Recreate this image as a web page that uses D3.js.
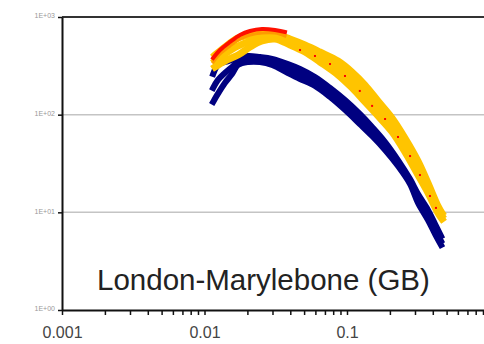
<!DOCTYPE html>
<html><head><meta charset="utf-8">
<script src="https://cdn.jsdelivr.net/npm/d3@7"></script>
<style>html,body{margin:0;padding:0;background:#fff;}svg{display:block;}</style>
</head><body>
<svg id="c" width="484" height="344"></svg>
<script>
// ---- data ----
const xTicksMajor = [0.001, 0.01, 0.1];
const yTickValues = [1, 10, 100, 1000];
const yTickLabels = ["1E+00", "1E+01", "1E+02", "1E+03"];
const title = "London-Marylebone (GB)";

const blueX = [0.0115, 0.0124, 0.0139, 0.0156, 0.0172, 0.0202, 0.0245, 0.0298, 0.0385, 0.0468, 0.0596, 0.076, 0.0968, 0.123, 0.150, 0.185, 0.228, 0.277, 0.315, 0.370, 0.415, 0.457];
const blueTop = [261, 323, 346, 363, 380, 399, 389, 372, 330, 294, 243, 188, 141, 101.6, 74.8, 52.5, 34.3, 21.9, 15.4, 10.6, 7.60, 5.72];
const blueMid = [188, 226, 267, 308, 346, 372, 363, 346, 294, 261, 216, 167, 126, 90.3, 66.5, 47.8, 32.0, 20.4, 13.7, 9.39, 6.75, 5.09];
const blueBot = [135, 163, 211, 261, 323, 346, 346, 323, 267, 232, 197, 152, 112, 80.2, 60.5, 43.5, 29.8, 19.5, 12.5, 8.35, 6.00, 4.63];

const yellowX = [0.01185, 0.0139, 0.0172, 0.02086, 0.02532, 0.03125, 0.0398, 0.0507, 0.0646, 0.0865, 0.1084, 0.1337, 0.165, 0.207, 0.255, 0.315, 0.370, 0.435, 0.464];
const yellowTop = [408, 493, 610, 654, 670, 670, 595, 517, 438, 354, 273, 201, 138, 92.4, 57.7, 33.5, 20.0, 11.6, 9.84];
const yellowMid = [354, 418, 505, 568, 624, 639, 555, 481, 389, 301, 226, 167, 117, 78.4, 48.9, 28.4, 17.7, 10.6, 9.17];
const yellowBot = [308, 354, 408, 493, 568, 595, 517, 438, 346, 255, 188, 135, 96.9, 66.5, 41.5, 24.1, 15.8, 9.84, 8.55];

const warmX = [0.0115, 0.01284, 0.0151, 0.01775, 0.02086, 0.02532, 0.03125, 0.0367];
const redTop = [380, 459, 555, 654, 719, 753, 736, 702];
const orangeTop = [346, 418, 505, 595, 654, 686, 686, 639];

const redDotX = [0.0468, 0.0596, 0.076, 0.0968, 0.123, 0.150, 0.185, 0.228, 0.277, 0.325, 0.382, 0.421];
const redDotY = [459, 399, 330, 249, 175, 123, 90.3, 59.1, 37.7, 24.1, 14.7, 11.1];

// ---- chart ----
const svg = d3.select("#c");
const mLeft = 62, mTop = 17, mBottom = 310, decadeX = 142.5;
const x = d3.scaleLog().domain([0.001, 1]).range([mLeft, mLeft + 3 * decadeX]);
const y = d3.scaleLog().domain([1, 1000]).range([mBottom, mTop]);

// gridlines
svg.append("g").selectAll("line").data([10, 100]).join("line")
  .attr("x1", mLeft).attr("x2", 484)
  .attr("y1", d => y(d)).attr("y2", d => y(d))
  .attr("stroke", "#c4c4c4").attr("stroke-width", 1.5);

// top border
svg.append("line").attr("x1", mLeft).attr("x2", 484).attr("y1", y(1000)).attr("y2", y(1000))
  .attr("stroke", "#333").attr("stroke-width", 2);

// series
const line = d3.line().x(d => x(d[0])).y(d => y(d[1])).curve(d3.curveCatmullRom);
const series = [
  {xs: blueX, ys: blueTop, c: "#000080", w: 6},
  {xs: blueX, ys: blueMid, c: "#000080", w: 6},
  {xs: blueX, ys: blueBot, c: "#000080", w: 6},
  {xs: yellowX, ys: yellowBot, c: "#ffc400", w: 7},
  {xs: yellowX, ys: yellowMid, c: "#ffc400", w: 7},
  {xs: yellowX, ys: yellowTop, c: "#ffc400", w: 7},
  {xs: warmX, ys: orangeTop, c: "#ff9a00", w: 3},
  {xs: warmX, ys: redTop, c: "#ff1000", w: 4}
];
svg.append("g").selectAll("path").data(series).join("path")
  .attr("d", s => line(s.xs.map((v, i) => [v, s.ys[i]])))
  .attr("fill", "none").attr("stroke", s => s.c).attr("stroke-width", s => s.w)
  .attr("stroke-linecap", "square");

svg.append("g").selectAll("rect").data(redDotX.map((v, i) => [v, redDotY[i]])).join("rect")
  .attr("x", d => x(d[0]) - 1).attr("y", d => y(d[1]) - 1)
  .attr("width", 2).attr("height", 2).attr("fill", "#ff0000");

// x axis
const allX = [];
[0.001, 0.01, 0.1].forEach(d => { for (let k = 1; k <= 9; k++) allX.push(d * k); });
const xAxis = d3.axisBottom(x).tickValues(allX).tickSize(5).tickSizeOuter(0)
  .tickFormat(d => xTicksMajor.some(m => Math.abs(m - d) / m < 1e-6) ? String(d) : "");
const gx = svg.append("g").attr("transform", `translate(0,${mBottom})`).call(xAxis);
gx.select(".domain").attr("stroke", "#111").attr("stroke-width", 2);
gx.selectAll(".tick line").attr("stroke", "#111").attr("stroke-width", 1.5);
gx.selectAll("text").attr("y", 28).attr("dy", 0).attr("fill", "#444")
  .style("font-family", "Arial, 'Liberation Sans', sans-serif").style("font-size", "16px");

// y axis
const yAxis = d3.axisLeft(y).tickValues(yTickValues).tickSize(4).tickSizeOuter(0).tickPadding(3)
  .tickFormat((d, i) => yTickLabels[i]);
const gy = svg.append("g").attr("transform", `translate(${mLeft},0)`).call(yAxis);
gy.select(".domain").attr("stroke", "#111").attr("stroke-width", 2);
gy.selectAll(".tick line").attr("stroke", "#111").attr("stroke-width", 1.5);
gy.selectAll("text").attr("fill", "#999").attr("dy", "0.1em")
  .style("font-family", "Arial, 'Liberation Sans', sans-serif").style("font-size", "7px");

// title
svg.append("text").attr("x", 97).attr("y", 290).text(title)
  .attr("fill", "#222")
  .style("font-family", "Arial, 'Liberation Sans', sans-serif").style("font-size", "29.5px");
</script>
</body></html>
